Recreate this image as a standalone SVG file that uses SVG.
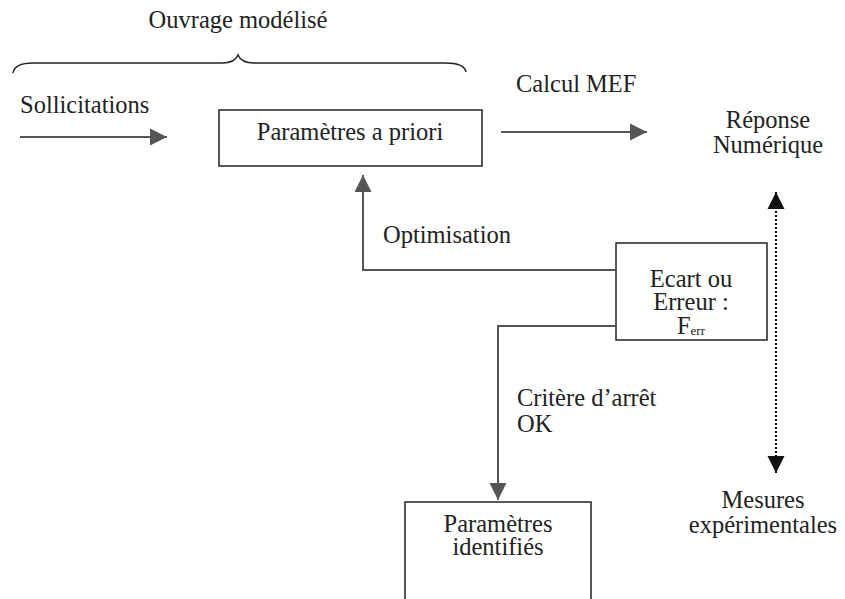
<svg xmlns="http://www.w3.org/2000/svg" width="845" height="599" viewBox="0 0 845 599" font-family="'Liberation Serif', 'Times New Roman', Tinos, 'DejaVu Serif', serif">
<style>
text{font-family:'Liberation Serif','Times New Roman',Tinos,'DejaVu Serif',serif;font-size:24.5px;fill:#222}
.box{fill:none;stroke:#222;stroke-width:1.5}
.conn{fill:none;stroke:#555;stroke-width:2}
.dot{fill:none;stroke:#111;stroke-width:2.2;stroke-dasharray:2 2}
</style>
<defs>
<marker id="ag" markerUnits="userSpaceOnUse" markerWidth="18" markerHeight="18" viewBox="0 0 18 18" refX="17" refY="9" orient="auto"><path d="M0,0.5 L17,9 L0,17.5 Z" fill="#555"/></marker>
<marker id="ab" markerUnits="userSpaceOnUse" markerWidth="18" markerHeight="18" viewBox="0 0 18 18" refX="17" refY="9" orient="auto"><path d="M0,0.5 L17,9 L0,17.5 Z" fill="#111"/></marker>
</defs>
<g id="brace">
<path d="M13,73 C14,66 20,63 33,63 L222,63 C232,63 236,60 238,55 C240,60 244,63 254,63 L445,63 C458,63 465,66 466,72" fill="none" stroke="#222" stroke-width="1.5"/>
<text x="238" y="28" text-anchor="middle">Ouvrage modélisé</text>
</g>
<g id="sollicitations"><text x="20" y="113">Sollicitations</text></g>
<g id="calcul"><text x="516" y="92">Calcul MEF</text></g>
<g id="reponse"><text x="768" y="128" text-anchor="middle">Réponse</text><text x="768" y="153" text-anchor="middle">Numérique</text></g>
<g id="optimisation"><text x="383" y="243">Optimisation</text></g>
<g id="critere"><text x="517" y="406">Critère d’arrêt</text><text x="517" y="432">OK</text></g>
<g id="mesures"><text x="763" y="508" text-anchor="middle">Mesures</text><text x="763" y="533" text-anchor="middle">expérimentales</text></g>
<g id="params-priori"><rect class="box" x="219" y="110" width="263" height="56"/><text x="350" y="140" text-anchor="middle">Paramètres a priori</text></g>
<g id="ecart"><rect class="box" x="616" y="243" width="151" height="97"/><text x="691" y="287" text-anchor="middle">Ecart ou</text><text x="691" y="310" text-anchor="middle">Erreur :</text><text x="691" y="334" text-anchor="middle">F<tspan font-size="13" dy="1">err</tspan></text></g>
<g id="params-identifies"><path class="box" d="M405,600 L405,502 L591,502 L591,600"/><text x="498" y="532" text-anchor="middle">Paramètres</text><text x="498" y="555" text-anchor="middle">identifiés</text></g>
<g id="connectors">
<line class="conn" x1="20" y1="137" x2="167" y2="137" marker-end="url(#ag)"/>
<line class="conn" x1="501" y1="132" x2="647" y2="132" marker-end="url(#ag)"/>
<path class="conn" d="M616,270 L363,270 L363,175" marker-end="url(#ag)"/>
<path class="conn" d="M616,326 L498,326 L498,500" marker-end="url(#ag)"/>
<line class="dot" x1="776" y1="206" x2="776" y2="192" stroke-dasharray="none" stroke-width="0" marker-end="url(#ab)"/>
<line class="dot" x1="776" y1="207" x2="776" y2="458"/>
<line class="dot" x1="776" y1="455" x2="776" y2="473" stroke-dasharray="none" stroke-width="0" marker-end="url(#ab)"/>
</g>
</svg>
